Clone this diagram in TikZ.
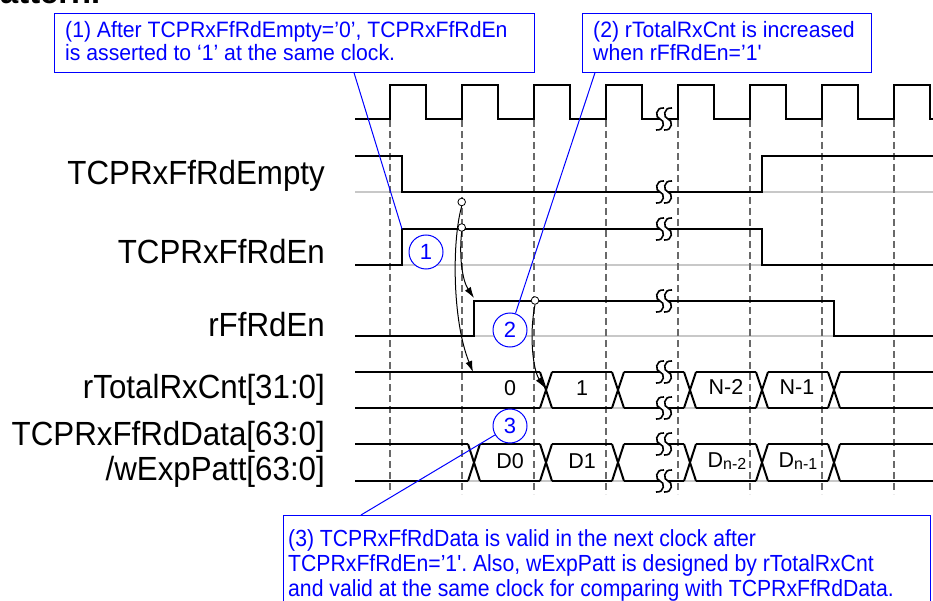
\documentclass[tikz,border=0pt]{standalone}
\usepackage{graphicx}
\usepackage{fontspec}
\setmainfont{Liberation Sans}[Ligatures=TeXOff]
\usetikzlibrary{arrows.meta}
\definecolor{cblue}{RGB}{0,0,255}
\definecolor{dashgray}{RGB}{105,105,105}
\definecolor{basegray}{RGB}{200,200,200}
\frenchspacing
\begin{document}
\begin{tikzpicture}[x=1pt,y=-1pt,
  sig/.style={line width=2pt, line join=miter, black},
  baseln/.style={line width=1.2pt, basegray},
  gridln/.style={line width=1.5pt, dashgray, dash pattern=on 7pt off 4pt},
  callout/.style={draw=cblue, line width=1pt, fill=white, inner sep=0pt, rectangle},
  calltext/.style={text=cblue, inner sep=0pt, anchor=base west, font=\fontsize{21.2}{24}\selectfont},
  lbl/.style={inner sep=0pt, anchor=base east, font=\fontsize{31.3}{34}\selectfont},
  val/.style={inner sep=0pt, font=\fontsize{21.5}{24}\selectfont},
  numc/.style={circle, draw=cblue, line width=1pt, fill=white, minimum size=34pt, inner sep=0pt, text=cblue, font=\fontsize{22}{22}\selectfont},
  probe/.style={circle, draw, line width=0.8pt, fill=white, minimum size=7.6pt, inner sep=0pt},
  cause/.style={-{Latex[length=11pt,width=7pt]}, line width=1pt},
  bline/.style={cblue, line width=1pt},
  brk/.pic={
    \fill[white] (-4,-2.5) rectangle (4,2.5);
    \foreach \c in {-4,4}{
      \draw[line width=1.6pt] (\c+4,-11) .. controls (\c-5,-12) and (\c-5,-1) .. (\c,0)
        .. controls (\c+5,1) and (\c+5,12) .. (\c-4,11);
    }
  }
]
\path[use as bounding box] (0,0) rectangle (933,601);
\clip (0,0) rectangle (933,601);

% fragment of text above the picture
\node[anchor=base west, inner sep=0pt, font=\fontsize{32.7}{36}\selectfont\bfseries] (frag) at (-20,3.5) {pattern.};

% gray baselines
\foreach \yy in {192,265,336,408,481}{
  \draw[baseln] (355,\yy) -- (933,\yy);
}
% dashed clock grid
\foreach \k in {0,...,7}{
  \draw[gridln] (390+72*\k,120) -- (390+72*\k,494);
}

% clock
\draw[sig] (355,119) foreach \k in {0,...,7} { -- (390+72*\k,119) -- (390+72*\k,85) -- (426+72*\k,85) -- (426+72*\k,119) } -- (933,119);
% TCPRxFfRdEmpty
\draw[sig] (355,156) -- (402,156) -- (402,192) -- (762,192) -- (762,156) -- (933,156);
% TCPRxFfRdEn
\draw[sig] (355,265) -- (402,265) -- (402,229) -- (762,229) -- (762,265) -- (933,265);
% rFfRdEn
\draw[sig] (355,336) -- (474,336) -- (474,301) -- (834,301) -- (834,336) -- (933,336);

% rTotalRxCnt bus
\foreach \ya/\yb in {372/408}{
  \draw[sig] (355,\ya) -- (540,\ya) (552,\ya) -- (612,\ya) (624,\ya) -- (684,\ya) (696,\ya) -- (756,\ya) (768,\ya) -- (828,\ya) (840,\ya) -- (933,\ya);
  \draw[sig] (355,\yb) -- (540,\yb) (552,\yb) -- (612,\yb) (624,\yb) -- (684,\yb) (696,\yb) -- (756,\yb) (768,\yb) -- (828,\yb) (840,\yb) -- (933,\yb);
  \foreach \t in {546,618,690,762,834}{
    \draw[sig] (\t-6,\ya) -- (\t+6,\yb) (\t-6,\yb) -- (\t+6,\ya);
  }
}
% TCPRxFfRdData bus
\foreach \ya/\yb in {444/481}{
  \draw[sig] (355,\ya) -- (468,\ya) (480,\ya) -- (540,\ya) (552,\ya) -- (612,\ya) (624,\ya) -- (684,\ya) (696,\ya) -- (756,\ya) (768,\ya) -- (828,\ya) (840,\ya) -- (933,\ya);
  \draw[sig] (355,\yb) -- (468,\yb) (480,\yb) -- (540,\yb) (552,\yb) -- (612,\yb) (624,\yb) -- (684,\yb) (696,\yb) -- (756,\yb) (768,\yb) -- (828,\yb) (840,\yb) -- (933,\yb);
  \foreach \t in {474,546,618,690,762,834}{
    \draw[sig] (\t-6,\ya) -- (\t+6,\yb) (\t-6,\yb) -- (\t+6,\ya);
  }
}

% break marks
\foreach \yy in {119,192,229,301,372,408,444,481}{
  \pic at (664,\yy) {brk};
}

% signal labels
\node[lbl] (lEmpty) at (325,184.3) {\scalebox{1}[1.07]{TCPRxFfRdEmpty}};
\node[lbl] (lEn) at (325,263.3) {\scalebox{1}[1.07]{TCPRxFfRdEn}};
\node[lbl] (lrEn) at (325,336.5) {\scalebox{1}[1.07]{rFfRdEn}};
\node[lbl] (lCnt) at (325,398) {\scalebox{1}[1.07]{rTotalRxCnt[31:0]}};
\node[lbl] (lData) at (325,445) {\scalebox{1}[1.07]{TCPRxFfRdData[63:0]}};
\node[lbl] (lExp) at (325,480) {\scalebox{1}[1.07]{/wExpPatt[63:0]}};

% bus values
\node[val] (v0) at (510,388) {0};
\node[val] (v1) at (582,388) {1};
\node[val] (vn2) at (726,387) {N-2};
\node[val] (vn1) at (797,387) {N-1};
\node[val] (d0) at (510,461) {D0};
\node[val] (d1) at (582,461) {D1};
\node[val] (dn2) at (727,461) {D\raisebox{-2pt}{\fontsize{16}{16}\selectfont n-2}};
\node[val] (dn1) at (798,461) {D\raisebox{-2pt}{\fontsize{16}{16}\selectfont n-1}};

% probe circles and cause arrows
\node[probe] (p1) at (461.7,202) {};
\node[probe] (p2) at (461.7,227.5) {};
\node[probe] (p3) at (535,300.5) {};
\coordinate (cntstart) at (473,372);
\coordinate (rffrise) at (474,298);
\coordinate (cntone) at (545,388);
\draw[cause] (p1.south) .. controls (452,240) and (452,320) .. (cntstart);
\draw[cause] (p2.south) .. controls (459,255) and (462,280) .. (rffrise);
\draw[cause] (p3.south) .. controls (529,335) and (533,370) .. (cntone);

% callout boxes
\node[callout, anchor=north west, minimum width=480pt, minimum height=59pt] (box1) at (54,12.7) {};
\node[callout, anchor=north west, minimum width=288.7pt, minimum height=59pt] (box2) at (582,12.7) {};
\node[callout, anchor=north west, minimum width=646.7pt, minimum height=110pt] (box3) at (283.3,515) {};

\node[calltext] (t1a) at (65,37.5) {\scalebox{1}[1.05]{(1) After TCPRxFfRdEmpty=’0’, TCPRxFfRdEn}};
\node[calltext] (t1b) at (65,61) {\scalebox{1}[1.05]{is asserted to ‘1’ at the same clock.}};
\node[calltext] (t2a) at (593,37.5) {\scalebox{1}[1.05]{(2) rTotalRxCnt is increased}};
\node[calltext] (t2b) at (593,61) {\scalebox{1}[1.05]{when rFfRdEn=’1'}};
\node[calltext] (t3a) at (288,546.7) {\scalebox{1}[1.1]{(3) TCPRxFfRdData is valid in the next clock after}};
\node[calltext] (t3b) at (288,571.5) {\scalebox{1}[1.1]{TCPRxFfRdEn=’1'. Also, wExpPatt is designed by rTotalRxCnt}};
\node[calltext] (t3c) at (288,596.5) {\scalebox{1}[1.1]{and valid at the same clock for comparing with TCPRxFfRdData.}};

% numbered circles
\node[numc] (c1) at (426,252) {1};
\node[numc] (c2) at (510,330) {2};
\node[numc] (c3) at (510,426) {3};

% callout leaders
\coordinate (enrise) at (402,229);
\draw[bline] ([xshift=300pt]box1.south west) -- (enrise);
\draw[bline] ([xshift=13pt]box2.south west) -- (c2);
\draw[bline] (c3) -- ([xshift=77.7pt]box3.north west);
\end{tikzpicture}
\end{document}
